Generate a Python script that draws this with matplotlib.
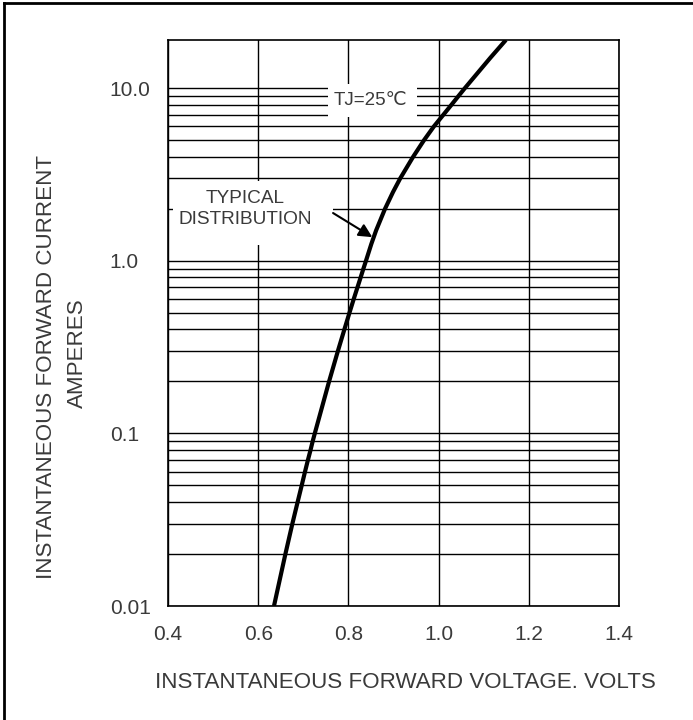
import matplotlib
matplotlib.use("Agg")
import matplotlib.pyplot as plt
from matplotlib.lines import Line2D
from matplotlib.patches import Rectangle
from matplotlib.ticker import FixedLocator, NullFormatter, LogLocator

plt.rcParams['font.family'] = ['Liberation Sans', 'DejaVu Sans']

# ---- data ----
voltage = [0.6350, 0.6603, 0.6758, 0.6874, 0.6965, 0.7038, 0.7102, 0.7160, 0.7208,
           0.7255, 0.7572, 0.7767, 0.7911, 0.8024, 0.8118, 0.8200, 0.8271, 0.8333,
           0.8390, 0.8508, 0.8615, 0.8812, 0.8989, 0.9149, 0.9435, 0.9678, 0.9896,
           1.0104, 1.0284, 1.0441, 1.0583, 1.1149, 1.1492]
current = [0.01, 0.02, 0.03, 0.04, 0.05, 0.06, 0.07, 0.08, 0.09,
           0.1, 0.2, 0.3, 0.4, 0.5, 0.6, 0.7, 0.8, 0.9,
           1.0, 1.25, 1.5, 2.0, 2.5, 3.0, 4.0, 5.0, 6.0,
           7.0, 8.0, 9.0, 10.0, 15.0, 19.0]

x_ticks = [0.4, 0.6, 0.8, 1.0, 1.2, 1.4]
x_tick_labels = ["0.4", "0.6", "0.8", "1.0", "1.2", "1.4"]
y_ticks = [0.01, 0.1, 1.0, 10.0]
y_tick_labels = ["0.01", "0.1", "1.0", "10.0"]

txt_color = '#3a3a3a'

W, H = 693, 720
fig = plt.figure(figsize=(W / 100, H / 100), dpi=100)
ax = fig.add_axes([168 / W, 1 - 606 / H, (619 - 168) / W, (606 - 40) / H])

ax.set_yscale('log')
ax.set_xlim(0.4, 1.4)
ax.set_ylim(0.01, 19)

ax.xaxis.set_major_locator(FixedLocator(x_ticks))
ax.set_xticklabels(x_tick_labels)
ax.yaxis.set_major_locator(FixedLocator(y_ticks))
ax.set_yticklabels(y_tick_labels)
ax.yaxis.set_minor_locator(LogLocator(base=10, subs=range(2, 10)))
ax.yaxis.set_minor_formatter(NullFormatter())

ax.grid(True, which='major', axis='both', color='black', lw=1.0)
ax.grid(True, which='minor', axis='y', color='black', lw=1.0)
ax.set_axisbelow(True)

ax.tick_params(axis='both', which='both', length=0, labelsize=15, labelcolor=txt_color)
ax.tick_params(axis='x', pad=14)
ax.tick_params(axis='y', pad=42)
for lab in ax.get_yticklabels():
    lab.set_horizontalalignment('left')

for s in ax.spines.values():
    s.set_linewidth(1.2)
    s.set_color('black')

ax.plot(voltage, current, color='black', lw=3.0, solid_capstyle='butt',
        solid_joinstyle='round', zorder=5)

# white boxes behind the annotations (axes-fraction layout)
ax.add_patch(Rectangle((0.3548, 0.8640), 0.1973, 0.0583, transform=ax.transAxes,
                       fc='white', ec='none', zorder=3))
ax.add_patch(Rectangle((0.0111, 0.6378), 0.3548, 0.1131, transform=ax.transAxes,
                       fc='white', ec='none', zorder=3))

# annotations
ax.text(0.848, 8.5, "TJ=25\u2103", fontsize=13.5, color=txt_color, ha='center', va='center',
        zorder=4)
ax.text(0.5707, 2.0, "TYPICAL\nDISTRIBUTION", fontsize=13.7, color=txt_color, ha='center',
        va='center', linespacing=1.3, zorder=4)
ax.annotate("", xy=(0.853, 1.37), xytext=(0.766, 1.89),
            arrowprops=dict(arrowstyle='-|>', lw=1.5, color='black', mutation_scale=20,
                            shrinkA=0, shrinkB=0), zorder=6)

# axis labels
fig.text(405 / W, 1 - 683 / H, "INSTANTANEOUS FORWARD VOLTAGE. VOLTS", fontsize=16.1,
         color=txt_color, ha='center', va='center')
fig.text(47 / W, 1 - 367 / H, "INSTANTANEOUS FORWARD CURRENT", fontsize=16.1,
         color=txt_color, ha='center', va='center', rotation=90)
fig.text(77 / W, 1 - 353 / H, "AMPERES", fontsize=16.1,
         color=txt_color, ha='center', va='center', rotation=90)

# outer border (top and left visible)
fig.add_artist(Line2D([4 / W, 4 / W], [0, 1 - 3 / H], color='black', lw=2.0,
                      transform=fig.transFigure))
fig.add_artist(Line2D([4 / W, 1], [1 - 3 / H, 1 - 3 / H], color='black', lw=2.0,
                      transform=fig.transFigure))

fig.savefig("out.png", dpi=100)
